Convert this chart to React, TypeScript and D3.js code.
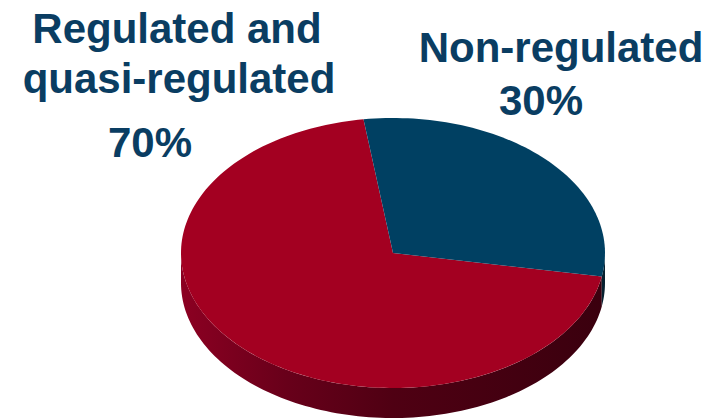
import React from "react";
import * as d3 from "d3";

const categories = ["Regulated and quasi-regulated", "Non-regulated"];
const values = [70, 30];
const labelLines = [
  ["Regulated and", "quasi-regulated", "70%"],
  ["Non-regulated", "30%"],
];
const topColors = ["#a30021", "#004062"];

const W = 710;
const H = 420;
const cx = 393;
const cy = 253;
const rx = 212;
const ry = 135;
const depth = 30;
const startDeg = 100;

const toRad = (d: number) => (d * Math.PI) / 180;
const pt = (a: number, dy = 0): [number, number] => [
  cx + rx * Math.sin(a),
  cy - ry * Math.cos(a) + dy,
];

function arcPoints(a0: number, a1: number, dy = 0) {
  const n = Math.max(2, Math.ceil(((a1 - a0) * 180) / Math.PI / 1.5));
  return d3.range(n + 1).map((i) => pt(a0 + ((a1 - a0) * i) / n, dy));
}

export default function App() {
  const pie = d3
    .pie<number>()
    .sort(null)
    .startAngle(toRad(startDeg))
    .endAngle(toRad(startDeg + 360));
  const arcs = pie(values);
  const line = d3.line();

  const tops = arcs.map((a) => {
    const pts = arcPoints(a.startAngle, a.endAngle);
    return line([[cx, cy], ...pts, [cx, cy]] as [number, number][]) + "Z";
  });

  const sides: { d: string; i: number }[] = [];
  arcs.forEach((a, i) => {
    for (let k = 0; k < 3; k++) {
      const lo = Math.max(a.startAngle, toRad(90 + 360 * k));
      const hi = Math.min(a.endAngle, toRad(270 + 360 * k));
      if (hi > lo) {
        const topEdge = arcPoints(lo, hi);
        const botEdge = arcPoints(lo, hi, depth).reverse();
        sides.push({
          d: line([...topEdge, ...botEdge] as [number, number][]) + "Z",
          i,
        });
      }
    }
  });

  const labelPos = [
    [
      { x: 177, y: 43 },
      { x: 179, y: 93 },
      { x: 150, y: 157 },
    ],
    [
      { x: 561, y: 62 },
      { x: 541, y: 115 },
    ],
  ];

  return (
    <svg
      width={W}
      height={H}
      style={{ position: "absolute", left: 0, top: 0, background: "#fff" }}
    >
      <defs>
        <linearGradient
          id="side0"
          gradientUnits="userSpaceOnUse"
          x1={cx - rx}
          x2={cx + rx}
          y1={0}
          y2={0}
        >
          <stop offset="0" stopColor="#8c0022" />
          <stop offset="0.25" stopColor="#68001a" />
          <stop offset="0.5" stopColor="#4f0013" />
          <stop offset="1" stopColor="#3a000e" />
        </linearGradient>
        <linearGradient
          id="side1"
          gradientUnits="userSpaceOnUse"
          x1={cx - rx}
          x2={cx + rx}
          y1={0}
          y2={0}
        >
          <stop offset="0" stopColor="#0e3550" />
          <stop offset="1" stopColor="#06202f" />
        </linearGradient>
      </defs>
      <rect width={W} height={H} fill="#fff" />
      {sides.map((s, j) => (
        <path key={"s" + j} d={s.d} fill={`url(#side${s.i})`} />
      ))}
      {tops.map((d, i) => (
        <path key={"t" + i} d={d} fill={topColors[i]} />
      ))}
      {labelLines.map((lines, i) =>
        lines.map((t, j) => (
          <text
            key={categories[i] + j}
            x={labelPos[i][j].x}
            y={labelPos[i][j].y}
            textAnchor="middle"
            fontFamily="'Liberation Sans', Arial, sans-serif"
            fontWeight="bold"
            fontSize={42}
            fill="#0a3d62"
          >
            {t}
          </text>
        ))
      )}
    </svg>
  );
}
